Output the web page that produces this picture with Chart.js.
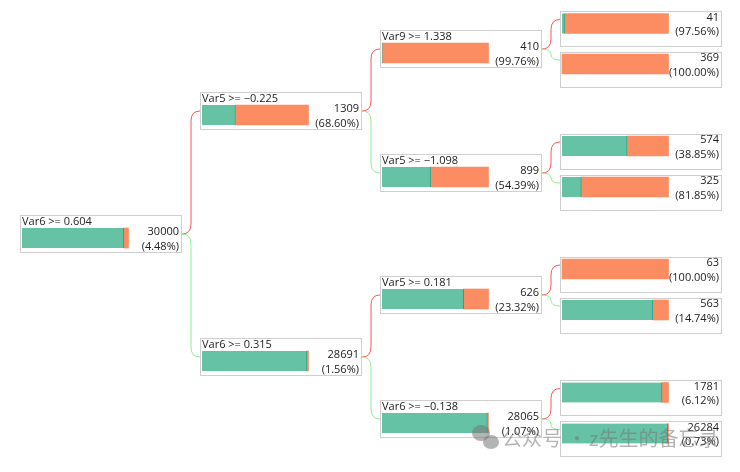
<!DOCTYPE html>
<html>
<head>
<meta charset="utf-8">
<script src="https://cdn.jsdelivr.net/npm/chart.js@4.4.1/dist/chart.umd.min.js"></script>
<style>
  html, body { margin: 0; padding: 0; background: #fff; }
  #wrap { width: 740px; height: 472px; position: relative; }
</style>
</head>
<body>
<div id="wrap"><canvas id="tree"></canvas></div>
<script>
// tree nodes, in order: root, level 1, level 2, leaves
const nodeRule = ['Var6 >= 0.604', 'Var5 >= \u22120.225', 'Var6 >= 0.315',
    'Var9 >= 1.338', 'Var5 >= \u22121.098', 'Var5 >= 0.181', 'Var6 >= \u22120.138',
    '', '', '', '', '', '', '', ''];
const nodeCount = [30000, 1309, 28691, 410, 899, 626, 28065,
    41, 369, 574, 325, 63, 563, 1781, 26284];
const nodeRate = [4.48, 68.60, 1.56, 99.76, 54.39, 23.32, 1.07,
    97.56, 100.00, 38.85, 81.85, 100.00, 14.74, 6.12, 0.73];
const nodeParent = [-1, 0, 0, 1, 1, 2, 2, 3, 3, 4, 4, 5, 5, 6, 6];
// vertical centre of each node's bar (page rows)
const nodeRow = [238, 115, 361, 53, 177, 299, 423,
    23.5, 64, 146, 187, 269, 310, 392.5, 433.5];

const colLeft = [20, 200, 380, 560];
const boxW = 161, barW = 106.5;
const green = '#66c2a5', orange = '#fc8d62';

let depth = nodeParent.map(function (p, i) {
    let d = 0, k = i;
    while (nodeParent[k] >= 0) { k = nodeParent[k]; d++; }
    return d;
});
let isLeaf = nodeCount.map((v, i) => nodeParent.indexOf(i) < 0);

let greenSet = [], orangeSet = [];
nodeCount.forEach(function (n, i) {
    let x0 = colLeft[depth[i]] + 2;
    let split = x0 + barW * (1 - nodeRate[i] / 100);
    if (nodeRate[i] < 100) greenSet.push({y: nodeRow[i], x: [x0, split]});
    if (nodeRate[i] > 0) orangeSet.push({y: nodeRow[i], x: [split, x0 + barW]});
});

const font = '11px "Open Sans", "Segoe UI", sans-serif';

const treePlugin = {
    id: 'treeBoxes',
    beforeDatasetsDraw(chart) {
        let ctx = chart.ctx, sx = chart.scales.x, sy = chart.scales.y;
        ctx.save();
        nodeCount.forEach(function (n, i) {
            let left = sx.getPixelForValue(colLeft[depth[i]]);
            let c = sy.getPixelForValue(nodeRow[i]);
            let top = isLeaf[i] ? c - 12.5 : c - 23;
            let h = isLeaf[i] ? 35 : 37;
            ctx.fillStyle = '#fff';
            ctx.fillRect(left, top, boxW, h);
            ctx.strokeStyle = '#cfcfcf';
            ctx.lineWidth = 1;
            ctx.strokeRect(Math.round(left) + 0.5, Math.round(top) + 0.5, boxW, h);
        });
        // connectors
        nodeParent.forEach(function (p, i) {
            if (p < 0) return;
            let x0 = sx.getPixelForValue(colLeft[depth[p]] + boxW + 1);
            let y0 = sy.getPixelForValue(nodeRow[p]) - 4;
            let x1 = sx.getPixelForValue(colLeft[depth[i]]);
            let y1 = sy.getPixelForValue(nodeRow[i]) - 4;
            let xm = (x0 + x1) / 2;
            let dir = y1 < y0 ? -1 : 1;
            let r = Math.min(10, Math.abs(y1 - y0) / 2);
            ctx.strokeStyle = nodeParent.indexOf(p) === i ? '#ff5555' : '#8ff08f';
            ctx.beginPath();
            ctx.moveTo(x0, y0);
            ctx.quadraticCurveTo(xm, y0, xm, y0 + dir * r);
            ctx.lineTo(xm, y1 - dir * r);
            ctx.quadraticCurveTo(xm, y1, x1, y1);
            ctx.stroke();
        });
        ctx.restore();
    },
    afterDatasetsDraw(chart) {
        let ctx = chart.ctx, sx = chart.scales.x, sy = chart.scales.y;
        ctx.save();
        ctx.font = font;
        ctx.fillStyle = '#222';
        ctx.textBaseline = 'middle';
        nodeCount.forEach(function (n, i) {
            let left = sx.getPixelForValue(colLeft[depth[i]]);
            let c = sy.getPixelForValue(nodeRow[i]);
            ctx.textAlign = 'right';
            ctx.fillText(String(n), left + boxW - 2, c - 6);
            ctx.fillText('(' + nodeRate[i].toFixed(2) + '%)', left + boxW - 2, c + 8.5);
            if (nodeRule[i]) {
                ctx.textAlign = 'left';
                ctx.fillText(nodeRule[i], left + 2, c - 16);
            }
        });
        // watermark
        ctx.globalAlpha = 0.55;
        ctx.fillStyle = '#777';
        ctx.beginPath();
        ctx.ellipse(481, 433, 9, 8, 0, 0, Math.PI * 2);
        ctx.fill();
        ctx.beginPath();
        ctx.ellipse(491, 442, 8, 7, 0, 0, Math.PI * 2);
        ctx.fill();
        ctx.font = '20px "Noto Sans CJK SC", sans-serif';
        ctx.textAlign = 'left';
        ctx.fillText('公众号', 502, 438);
        ctx.textAlign = 'center';
        ctx.fillText('·', 577, 438);
        ctx.textAlign = 'left';
        ctx.fillText('z先生的备忘录', 589, 438);
        ctx.restore();
    }
};

let chart = new Chart(document.getElementById('tree').getContext('2d'), {
    type: 'bar',
    data: {
        datasets: [
            {data: greenSet, backgroundColor: green, borderColor: '#2fa386',
             borderWidth: {left: 0, top: 0, bottom: 0, right: 1}, borderSkipped: false,
             barThickness: 20, grouped: false},
            {data: orangeSet, backgroundColor: orange, borderWidth: 0,
             barThickness: 20, grouped: false}
        ]
    },
    options: {
        indexAxis: 'y',
        responsive: true,
        maintainAspectRatio: false,
        animation: false,
        layout: {padding: 0},
        plugins: {legend: {display: false}, tooltip: {enabled: false}},
        scales: {
            x: {type: 'linear', min: 0, max: 740, display: false, offset: false},
            y: {type: 'linear', min: 0, max: 472, reverse: true, display: false,
                offset: false, grid: {offset: false}}
        }
    },
    plugins: [treePlugin]
});
</script>
</body>
</html>
